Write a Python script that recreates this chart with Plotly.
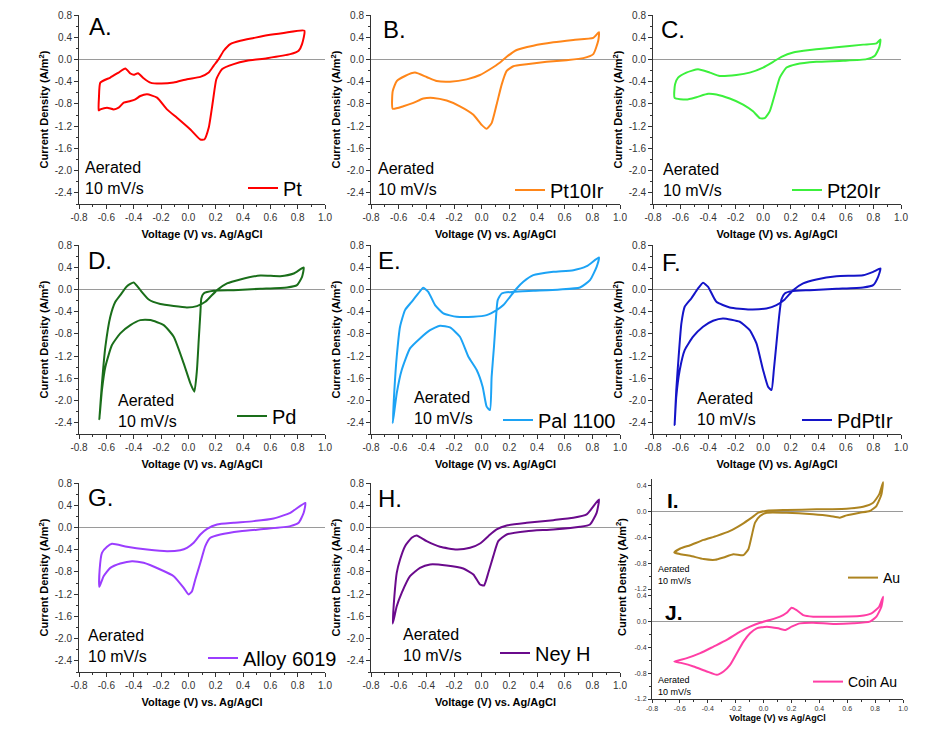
import plotly.graph_objects as go

W, H = 941, 730

# ---------------- data (V vs Ag/AgCl, current density A/m^2) ----------------
pt_v = [-0.644,-0.571,-0.51,-0.461,-0.424,-0.40,-0.368,-0.327,-0.278,-0.205,-0.107,-0.01,0.088,0.149,0.185,0.222,0.259,0.307,0.38,0.478,0.576,0.698,0.849,
        0.832,0.807,0.746,0.576,0.429,0.332,0.246,0.205,0.18,0.149,0.117,0.088,0.015,-0.083,-0.156,-0.229,-0.302,-0.351,-0.388,-0.424,-0.473,-0.51,-0.546,-0.595,-0.644,-0.656,-0.654,-0.644]
pt_i = [-0.416,-0.325,-0.235,-0.163,-0.253,-0.277,-0.247,-0.337,-0.416,-0.434,-0.416,-0.355,-0.313,-0.235,-0.114,0.006,0.157,0.277,0.337,0.386,0.434,0.476,0.518,
        0.277,0.157,0.096,0.024,-0.024,-0.084,-0.175,-0.355,-0.747,-1.229,-1.44,-1.44,-1.259,-1.048,-0.898,-0.687,-0.627,-0.657,-0.717,-0.747,-0.777,-0.867,-0.898,-0.867,-0.898,-0.916,-0.687,-0.416]

pt10ir_v = [-0.643,-0.643,-0.614,-0.554,-0.482,-0.398,-0.325,-0.229,-0.108,-0.012,0.06,0.133,0.181,0.253,0.373,0.518,0.663,0.807,0.848,
            0.843,0.807,0.735,0.614,0.47,0.325,0.229,0.181,0.145,0.108,0.072,0.036,0.0,-0.06,-0.157,-0.253,-0.349,-0.422,-0.494,-0.566,-0.643]
pt10ir_i = [-0.885,-0.57,-0.388,-0.297,-0.236,-0.315,-0.388,-0.4,-0.358,-0.279,-0.176,-0.055,0.048,0.17,0.248,0.309,0.352,0.388,0.49,
            0.34,0.097,0.024,-0.012,-0.042,-0.085,-0.121,-0.206,-0.448,-0.812,-1.145,-1.248,-1.176,-0.994,-0.842,-0.739,-0.691,-0.703,-0.782,-0.842,-0.885]

pt20ir_v = [-0.643,-0.64,-0.618,-0.558,-0.473,-0.388,-0.316,-0.195,-0.098,-0.001,0.072,0.132,0.217,0.338,0.532,0.725,0.822,0.851,
            0.842,0.81,0.75,0.58,0.386,0.241,0.169,0.12,0.084,0.047,0.011,-0.025,-0.074,-0.146,-0.243,-0.34,-0.4,-0.485,-0.558,-0.643]
pt20ir_i = [-0.69,-0.448,-0.327,-0.236,-0.176,-0.236,-0.297,-0.279,-0.236,-0.145,-0.042,0.048,0.127,0.17,0.218,0.267,0.29,0.358,
            0.218,0.067,0.006,-0.024,-0.042,-0.085,-0.145,-0.327,-0.63,-0.933,-1.055,-1.055,-0.933,-0.812,-0.703,-0.63,-0.618,-0.679,-0.721,-0.69]

pd_v = [-0.651,-0.632,-0.607,-0.571,-0.534,-0.498,-0.449,-0.4,-0.351,-0.29,-0.205,-0.107,-0.01,0.063,0.124,0.161,0.21,0.283,0.38,0.527,0.673,0.771,0.844,
        0.832,0.795,0.722,0.527,0.332,0.185,0.112,0.095,0.088,0.076,0.063,0.044,0.015,-0.034,-0.107,-0.18,-0.278,-0.351,-0.424,-0.498,-0.559,-0.607,-0.632,-0.651]
pd_i = [-2.335,-1.689,-1.03,-0.491,-0.222,-0.102,0.06,0.126,-0.012,-0.18,-0.263,-0.299,-0.323,-0.299,-0.222,-0.132,-0.012,0.108,0.18,0.251,0.24,0.287,0.395,
        0.228,0.078,0.036,0.012,-0.012,-0.024,-0.072,-0.162,-0.431,-0.91,-1.449,-1.838,-1.689,-1.329,-0.85,-0.641,-0.551,-0.551,-0.641,-0.79,-1.0,-1.389,-1.808,-2.335]

pal1100_v = [-0.643,-0.631,-0.614,-0.59,-0.554,-0.506,-0.458,-0.422,-0.386,-0.337,-0.277,-0.181,-0.06,0.036,0.108,0.157,0.205,0.253,0.301,0.373,0.518,0.663,0.759,0.848,
             0.831,0.783,0.711,0.566,0.373,0.229,0.145,0.116,0.104,0.089,0.072,0.06,0.036,0.007,-0.036,-0.096,-0.157,-0.229,-0.301,-0.373,-0.446,-0.518,-0.578,-0.614,-0.643]
pal1100_i = [-2.407,-1.808,-1.21,-0.671,-0.371,-0.222,-0.072,0.03,-0.042,-0.281,-0.431,-0.491,-0.491,-0.461,-0.371,-0.281,-0.132,0.018,0.138,0.257,0.317,0.347,0.419,0.575,
             0.407,0.168,0.036,0.0,-0.024,-0.042,-0.072,-0.192,-0.491,-1.03,-1.569,-2.168,-2.108,-1.749,-1.449,-1.21,-0.85,-0.683,-0.653,-0.731,-0.88,-1.06,-1.449,-1.868,-2.407]

pdptir_v = [-0.643,-0.631,-0.614,-0.594,-0.57,-0.522,-0.473,-0.437,-0.4,-0.34,-0.243,-0.098,0.023,0.096,0.156,0.217,0.29,0.386,0.532,0.725,0.798,0.851,
            0.834,0.798,0.725,0.532,0.338,0.205,0.156,0.132,0.115,0.096,0.077,0.06,0.035,-0.001,-0.049,-0.098,-0.17,-0.292,-0.364,-0.437,-0.509,-0.57,-0.606,-0.631,-0.643]
pdptir_i = [-2.437,-1.808,-1.21,-0.611,-0.311,-0.162,0.018,0.12,0.048,-0.222,-0.323,-0.359,-0.341,-0.281,-0.18,-0.012,0.108,0.18,0.24,0.257,0.317,0.377,
            0.228,0.078,0.036,0.012,-0.012,-0.03,-0.072,-0.18,-0.491,-0.97,-1.449,-1.808,-1.749,-1.449,-0.97,-0.731,-0.581,-0.521,-0.563,-0.671,-0.85,-1.09,-1.449,-1.928,-2.437]

alloy6019_v = [-0.651,-0.649,-0.632,-0.595,-0.559,-0.449,-0.302,-0.156,-0.059,-0.01,0.039,0.088,0.137,0.21,0.332,0.478,0.624,0.746,0.856,
               0.844,0.807,0.746,0.576,0.38,0.234,0.161,0.124,0.088,0.051,0.027,0.002,-0.034,-0.107,-0.205,-0.327,-0.412,-0.498,-0.571,-0.62,-0.651]
alloy6019_i = [-1.068,-0.756,-0.456,-0.348,-0.294,-0.348,-0.396,-0.426,-0.408,-0.366,-0.276,-0.126,-0.024,0.054,0.084,0.114,0.162,0.264,0.444,
               0.264,0.084,0.024,-0.024,-0.066,-0.126,-0.186,-0.336,-0.636,-0.936,-1.146,-1.206,-1.086,-0.876,-0.756,-0.636,-0.606,-0.648,-0.726,-0.876,-1.068]

neyh_v = [-0.643,-0.631,-0.614,-0.59,-0.554,-0.506,-0.47,-0.398,-0.301,-0.181,-0.084,-0.012,0.048,0.108,0.181,0.325,0.518,0.663,0.759,0.848,
          0.831,0.783,0.711,0.518,0.325,0.181,0.12,0.084,0.048,0.017,-0.012,-0.06,-0.133,-0.253,-0.373,-0.446,-0.518,-0.578,-0.614,-0.643]
neyh_i = [-1.729,-1.237,-0.816,-0.576,-0.336,-0.186,-0.144,-0.246,-0.348,-0.396,-0.366,-0.288,-0.156,-0.036,0.036,0.084,0.132,0.174,0.234,0.504,
          0.264,0.054,0.012,-0.036,-0.066,-0.126,-0.246,-0.516,-0.816,-1.044,-1.026,-0.846,-0.738,-0.684,-0.666,-0.726,-0.876,-1.176,-1.417,-1.729]

au_v = [-0.64,-0.597,-0.526,-0.43,-0.335,-0.24,-0.156,-0.085,-0.037,0.023,0.166,0.38,0.595,0.714,0.786,0.829,0.857,
        0.845,0.809,0.762,0.69,0.595,0.547,0.476,0.356,0.166,0.023,-0.025,-0.061,-0.085,-0.109,-0.144,-0.216,-0.287,-0.347,-0.43,-0.526,-0.597,-0.64]
au_i = [-0.636,-0.574,-0.523,-0.441,-0.379,-0.303,-0.2,-0.097,-0.021,0.01,0.021,0.031,0.041,0.072,0.133,0.262,0.451,
        0.262,0.082,0.005,-0.021,-0.062,-0.097,-0.072,-0.046,-0.021,-0.021,-0.072,-0.174,-0.379,-0.585,-0.677,-0.662,-0.713,-0.749,-0.738,-0.687,-0.662,-0.636]

coinau_v = [-0.64,-0.55,-0.454,-0.359,-0.264,-0.168,-0.097,-0.025,0.046,0.118,0.166,0.201,0.237,0.285,0.356,0.5,0.69,0.774,0.829,0.857,
            0.845,0.809,0.762,0.643,0.5,0.356,0.261,0.201,0.154,0.106,0.023,-0.049,-0.097,-0.144,-0.192,-0.24,-0.287,-0.335,-0.407,-0.502,-0.585,-0.64]
coinau_i = [-0.621,-0.569,-0.492,-0.39,-0.287,-0.159,-0.082,-0.021,0.021,0.072,0.133,0.21,0.174,0.097,0.072,0.072,0.082,0.123,0.226,0.379,
            0.226,0.072,-0.005,-0.031,-0.041,-0.021,-0.031,-0.082,-0.133,-0.108,-0.082,-0.108,-0.185,-0.313,-0.492,-0.672,-0.774,-0.826,-0.774,-0.697,-0.646,-0.621]

names = ["Pt", "Pt10Ir", "Pt20Ir", "Pd", "Pal 1100", "PdPtIr", "Alloy 6019", "Ney H", "Au", "Coin Au"]
letters = ["A.", "B.", "C.", "D.", "E.", "F.", "G.", "H.", "I.", "J."]
x_title = "Voltage (V) vs. Ag/AgCl"
x_title_au = "Voltage (V) vs Ag/AgCl"
y_title = "Current Density (A/m<sup>2</sup>)"
x_ticks = [-0.8, -0.6, -0.4, -0.2, 0.0, 0.2, 0.4, 0.6, 0.8, 1.0]
x_ticklabels = ["-0.8", "-0.6", "-0.4", "-0.2", "0.0", "0.2", "0.4", "0.6", "0.8", "1.0"]
y_ticks_main = [-2.4, -2.0, -1.6, -1.2, -0.8, -0.4, 0.0, 0.4, 0.8]
y_ticklabels_main = ["-2.4", "-2.0", "-1.6", "-1.2", "-0.8", "-0.4", "0.0", "0.4", "0.8"]
y_ticks_au = [-1.2, -0.8, -0.4, 0.0, 0.4]
y_ticklabels_au = ["-1.2", "-0.8", "-0.4", "0.0", "0.4"]

series_v = [pt_v, pt10ir_v, pt20ir_v, pd_v, pal1100_v, pdptir_v, alloy6019_v, neyh_v, au_v, coinau_v]
series_i = [pt_i, pt10ir_i, pt20ir_i, pd_i, pal1100_i, pdptir_i, alloy6019_i, neyh_i, au_i, coinau_i]
for a, b in zip(series_v, series_i):
    assert len(a) == len(b), (len(a), len(b))

colors = ["#FF0000", "#FF8619", "#3CF03C", "#1A6E1A", "#1CA3F5", "#1414C8", "#9B3DFF", "#6A0A8C", "#AD8420", "#FF3EA5"]

# ---------------- layout geometry (pixels in the target picture) ----------------
OFF = 8   # page body margin in the browser shifts the figure by this much
cols = [(79, 325), (371, 620), (653, 901)]
rows = [(15, 204), (245, 434), (483, 672)]
boxes = []
for r in rows:
    for c in cols:
        boxes.append((c[0], c[1], r[0], r[1]))
boxes = boxes[:8]
boxes.append((652, 903, 479, 589))   # I
boxes.append((652, 903, 589, 699))   # J

def px(x):
    return (x - OFF) / W

def py(y):
    return 1 - (y - OFF) / H

FONT = "Arial, Liberation Sans, sans-serif"
fig = go.Figure()
layout = dict(width=W, height=H, margin=dict(l=0, r=0, t=0, b=0, pad=0, autoexpand=False),
              paper_bgcolor="white", plot_bgcolor="white",
              font=dict(family=FONT, color="black"), annotations=[])

letter_pos = [(87, 26), (381, 30), (659, 29), (86, 260), (376, 261), (660, 262), (86, 497), (376, 498), (665, 500), (663, 612)]
aer_pos = [(83, 178), (376, 179), (661, 180), (116, 411), (412, 408), (695, 409), (86, 646), (401, 645), (656, 575), (656, 686)]
legend_pos = [(243, 188), (510, 190), (787, 190), (232, 416), (498, 420), (797, 420), (203, 658), (495, 653), (843, 578), (808, 682)]

for k in range(10):
    x0, x1, y0, y1 = boxes[k]
    n = "" if k == 0 else str(k + 1)
    small = k >= 8
    xa = dict(domain=[px(x0), px(x1)], range=[-0.8, 1.0], anchor="y" + n, automargin=True,
              showline=True, linecolor="#333", linewidth=1, ticks="outside", ticklen=4 if not small else 3,
              tickcolor="#333", tickmode="array", tickvals=x_ticks, ticktext=x_ticklabels,
              tickfont=dict(size=10 if not small else 7, color="#333", family=FONT),
              minor=dict(ticks="outside", ticklen=2, tickcolor="#333", tickmode="array",
                         tickvals=[-0.7, -0.5, -0.3, -0.1, 0.1, 0.3, 0.5, 0.7, 0.9]),
              showgrid=False, zeroline=False, fixedrange=True)
    if not small:
        xa["title"] = dict(text=x_title, standoff=8, font=dict(size=11, family=FONT, color="black", weight="bold"))
    elif k == 9:
        xa["title"] = dict(text=x_title_au, standoff=3, font=dict(size=9, family=FONT, color="black", weight="bold"))
    if k == 8:
        xa.update(showline=False, ticks="", showticklabels=False, minor=dict(ticks=""))
    if small:
        ya = dict(domain=[py(y1), py(y0)], range=[-1.2, 0.5], anchor="x" + n,
                  tickmode="array", tickvals=y_ticks_au, ticktext=y_ticklabels_au,
                  minor=dict(ticks="outside", ticklen=2, tickcolor="#333", tickmode="array",
                             tickvals=[-1.0, -0.6, -0.2, 0.2]))
    else:
        ya = dict(domain=[py(y1), py(y0)], range=[-2.6, 0.8], anchor="x" + n,
                  tickmode="array", tickvals=y_ticks_main, ticktext=y_ticklabels_main,
                  minor=dict(ticks="outside", ticklen=2, tickcolor="#333", tickmode="array",
                             tickvals=[-2.6, -2.2, -1.8, -1.4, -1.0, -0.6, -0.2, 0.2, 0.6]),
                  title=dict(text=y_title, standoff=3, font=dict(size=11, family=FONT, color="black", weight="bold")))
    ya.update(showline=True, linecolor="#333", linewidth=1, ticks="outside", ticklen=4 if not small else 3,
              tickcolor="#333", tickfont=dict(size=10 if not small else 7, color="#333", family=FONT),
              showgrid=False, zeroline=True, zerolinecolor="#9a9a9a", zerolinewidth=1, fixedrange=True,
              automargin=True)
    layout["xaxis" + n] = xa
    layout["yaxis" + n] = ya

    leg = "legend" + n
    lx, ly = legend_pos[k]
    layout[leg] = dict(x=px(lx), y=py(ly), xanchor="left", yanchor="middle",
                       bgcolor="rgba(0,0,0,0)", borderwidth=0, itemwidth=30,
                       font=dict(size=20 if not small else 14, family=FONT, color="black"))

    fig.add_trace(go.Scatter(x=series_v[k], y=series_i[k], mode="lines", name=names[k],
                             line=dict(color=colors[k], width=2, shape="spline", smoothing=0.5),
                             xaxis="x" + n, yaxis="y" + n, legend=leg, showlegend=True,
                             hoverinfo="skip"))

    # panel letter
    lx, ly = letter_pos[k]
    layout["annotations"].append(dict(xref="paper", yref="paper", x=px(lx), y=py(ly), xanchor="left", yanchor="middle",
                                      text=letters[k], showarrow=False,
                                      font=dict(size=24 if not small else 21, family=FONT, color="black",
                                                weight="bold" if small else "normal")))
    # conditions text
    ax_, ay_ = aer_pos[k]
    layout["annotations"].append(dict(xref="paper", yref="paper", x=px(ax_), y=py(ay_), xanchor="left", yanchor="middle",
                                      align="left", text="Aerated<br>10 mV/s", showarrow=False,
                                      font=dict(size=16 if not small else 9, family=FONT, color="black")))

# shared y title of panels I and J
layout["annotations"].append(dict(xref="paper", yref="paper", x=px(621), y=py(577), xanchor="center", yanchor="middle",
                                  textangle=-90, text=y_title, showarrow=False,
                                  font=dict(size=11, family=FONT, color="black", weight="bold")))

fig.update_layout(**layout)
fig.write_html("out.html")
